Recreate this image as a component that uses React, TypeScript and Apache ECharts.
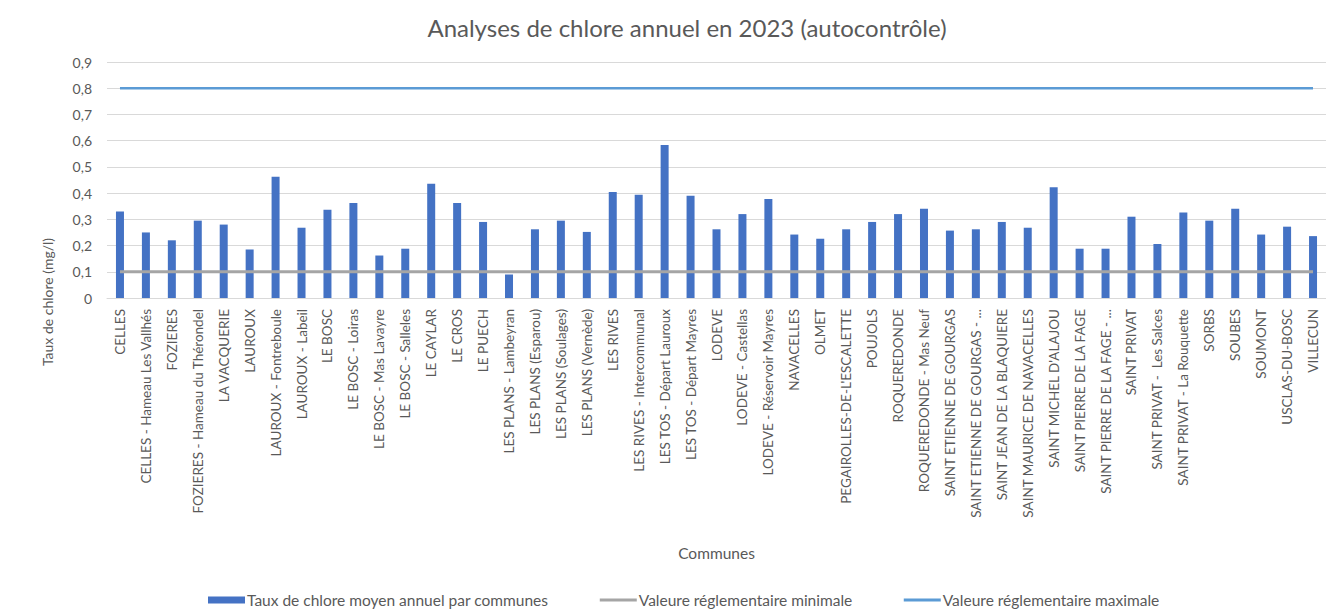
import React, { useEffect, useRef } from "react";
import * as echarts from "echarts";

const communes = [
  "CELLES",
  "CELLES - Hameau Les Vallhés",
  "FOZIERES",
  "FOZIERES - Hameau du Thérondel",
  "LA VACQUERIE",
  "LAUROUX",
  "LAUROUX - Fontreboule",
  "LAUROUX - Labeil",
  "LE BOSC",
  "LE BOSC - Loiras",
  "LE BOSC - Mas Lavayre",
  "LE BOSC - Salleles",
  "LE CAYLAR",
  "LE CROS",
  "LE PUECH",
  "LES PLANS - Lambeyran",
  "LES PLANS (Esparou)",
  "LES PLANS (Soulages)",
  "LES PLANS (Vernède)",
  "LES RIVES",
  "LES RIVES - Intercommunal",
  "LES TOS - Départ Lauroux",
  "LES TOS - Départ Mayres",
  "LODEVE",
  "LODEVE - Castellas",
  "LODEVE - Réservoir Mayres",
  "NAVACELLES",
  "OLMET",
  "PEGAIROLLES-DE-L'ESCALETTE",
  "POUJOLS",
  "ROQUEREDONDE",
  "ROQUEREDONDE - Mas Neuf",
  "SAINT ETIENNE DE GOURGAS",
  "SAINT ETIENNE DE GOURGAS - ...",
  "SAINT JEAN DE LA BLAQUIERE",
  "SAINT MAURICE DE NAVACELLES",
  "SAINT MICHEL D'ALAJOU",
  "SAINT PIERRE DE LA FAGE",
  "SAINT PIERRE DE LA FAGE - ...",
  "SAINT PRIVAT",
  "SAINT PRIVAT -  Les Salces",
  "SAINT PRIVAT - La Rouquette",
  "SORBS",
  "SOUBES",
  "SOUMONT",
  "USCLAS-DU-BOSC",
  "VILLECUN",
];

const tauxMoyen = [
  0.33, 0.25, 0.22, 0.295, 0.28, 0.185, 0.462, 0.268, 0.337, 0.362, 0.162, 0.188,
  0.436, 0.362, 0.29, 0.09, 0.262, 0.295, 0.252, 0.404, 0.394, 0.583, 0.39, 0.262,
  0.32, 0.378, 0.242, 0.226, 0.262, 0.29, 0.32, 0.34, 0.257, 0.262, 0.29, 0.268,
  0.422, 0.188, 0.188, 0.31, 0.206, 0.326, 0.295, 0.34, 0.242, 0.272, 0.236,
];

const valeurMin = communes.map(() => 0.1);
const valeurMax = communes.map(() => 0.8);

const seriesNames = [
  "Taux de chlore moyen annuel par communes",
  "Valeure réglementaire minimale",
  "Valeure réglementaire maximale",
];

const FONT = "Lato";
const GREY = "#595959";

export default function App() {
  const ref = useRef<HTMLDivElement>(null);
  useEffect(() => {
    if (!ref.current) return;
    const chart = echarts.init(ref.current, null, { renderer: "svg" });
    chart.setOption({
      animation: false,
      backgroundColor: "#ffffff",
      textStyle: { fontFamily: FONT },
      title: {
        text: "Analyses de chlore annuel en 2023 (autocontrôle)",
        left: 682,
        textAlign: "center",
        top: 10,
        textStyle: { fontFamily: FONT, fontSize: 24, fontWeight: "normal", color: GREY },
      },
      grid: { left: 107, top: 62, width: 1222, height: 236, containLabel: false },
      legend: {
        left: 208,
        top: 592,
        padding: 0,
        itemWidth: 37,
        itemHeight: 7,
        itemGap: 50,
        textStyle: {
          fontFamily: FONT,
          fontSize: 15.5,
          lineHeight: 15,
          color: GREY,
          padding: [0, 0, 0, -3],
        },
        data: [
          { name: seriesNames[0], icon: "rect" },
          { name: seriesNames[1], itemStyle: { opacity: 0 }, lineStyle: { width: 3 } },
          { name: seriesNames[2], itemStyle: { opacity: 0 }, lineStyle: { width: 3 } },
        ],
      },
      xAxis: {
        type: "category",
        data: communes,
        name: "Communes",
        nameLocation: "middle",
        nameGap: 247,
        nameTextStyle: { fontFamily: FONT, fontSize: 15.5, color: GREY },
        axisLine: { show: true, lineStyle: { color: "#d9d9d9" } },
        axisTick: { show: false },
        axisLabel: {
          rotate: 90,
          interval: 0,
          margin: 11,
          fontFamily: FONT,
          fontSize: 13.5,
          color: GREY,
        },
      },
      yAxis: {
        type: "value",
        min: 0,
        max: 0.9,
        interval: 0.1,
        axisLine: { show: false },
        axisTick: { show: false },
        splitLine: { lineStyle: { color: "#d9d9d9", width: 1 } },
        axisLabel: {
          margin: 15,
          fontFamily: FONT,
          fontSize: 14,
          color: GREY,
          formatter: (v: number) => (v === 0 ? "0" : v.toFixed(1).replace(".", ",")),
        },
      },
      graphic: [
        {
          type: "text",
          x: 47,
          y: 302,
          rotation: Math.PI / 2,
          style: {
            text: "Taux de chlore (mg/l)",
            fontFamily: FONT,
            fontSize: 14,
            fill: GREY,
            align: "center",
            verticalAlign: "middle",
          },
        },
      ],
      series: [
        {
          name: seriesNames[0],
          type: "bar",
          data: tauxMoyen,
          barWidth: 8,
          itemStyle: { color: "#4472C4" },
          z: 2,
        },
        {
          name: seriesNames[1],
          type: "line",
          data: valeurMin,
          symbol: "none",
          lineStyle: { color: "#A5A5A5", width: 3 },
          itemStyle: { color: "#A5A5A5" },
          z: 3,
        },
        {
          name: seriesNames[2],
          type: "line",
          data: valeurMax,
          symbol: "none",
          lineStyle: { color: "#5B9BD5", width: 2.5 },
          itemStyle: { color: "#5B9BD5" },
          z: 3,
        },
      ],
    });
    return () => chart.dispose();
  }, []);
  return <div ref={ref} style={{ width: 1326, height: 609, position: "absolute", left: 0, top: 0 }} />;
}
